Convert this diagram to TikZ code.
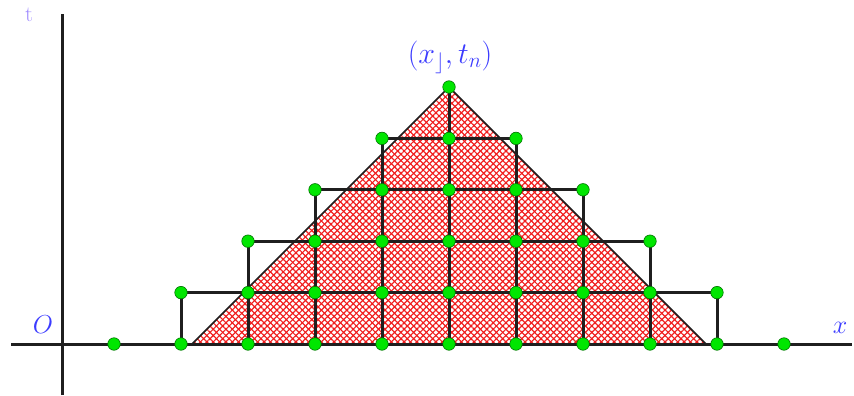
\RequirePackage{fix-cm}
\documentclass[tikz,border=0pt]{standalone}
\usepackage{amssymb}
\usetikzlibrary{patterns.meta}
\definecolor{lblblue}{RGB}{60,60,255}
\definecolor{lightblue}{RGB}{160,140,255}
\definecolor{dotgreen}{RGB}{0,230,0}
\definecolor{hatchred}{RGB}{240,30,30}
\begin{document}
\begin{tikzpicture}[x=1pt,y=-1pt,
  axisline/.style={line width=3pt,black!88},
  gridline/.style={line width=3pt,black!88},
  edgeline/.style={line width=1.6pt,black!88},
  dot/.style={circle,inner sep=0pt,minimum size=12.5pt,fill=dotgreen,draw=green!45!black,line width=0.6pt},
  lbl/.style={text=lblblue,inner sep=0pt}]
\useasboundingbox (0,0) rectangle (854,396);
% axes
\coordinate (ytop) at (62,14);
\coordinate (ybot) at (62,395);
\coordinate (xleft) at (11,344);
\coordinate (xright) at (852,344);
% grid coordinates
\foreach \i in {0,...,10} {\coordinate (g-\i-0) at ({114+67*\i},344);}
\foreach \j in {1,...,5} {
  \pgfmathtruncatemacro{\last}{10-\j}
  \foreach \i in {\j,...,\last} {\coordinate (g-\i-\j) at ({114+67*\i},{344-51.4*\j});}
}
% triangle
\coordinate (tA) at (192,344);
\coordinate (tC) at (706,344);
\fill[pattern={Lines[angle=45,distance=4.5pt,line width=1.2pt]},pattern color=hatchred] (tA) -- (g-5-5) -- (tC) -- cycle;
\fill[pattern={Lines[angle=-45,distance=4.5pt,line width=1.2pt]},pattern color=hatchred] (tA) -- (g-5-5) -- (tC) -- cycle;
% axes
\draw[axisline] (xleft) -- (xright);
\draw[axisline] (ybot) -- (ytop);
% horizontal grid lines
\foreach \j in {1,...,4} {
  \pgfmathtruncatemacro{\last}{10-\j}
  \draw[gridline] (g-\j-\j) -- (g-\last-\j);
}
% vertical grid lines
\foreach \i in {1,...,9} {
  \pgfmathtruncatemacro{\top}{min(\i,10-\i)}
  \draw[gridline] (g-\i-0) -- (g-\i-\top);
}
% triangle edges
\draw[edgeline] (tA) -- (g-5-5) -- (tC);
% dots
\foreach \i in {0,...,10} {\node[dot] (d-\i-0) at (g-\i-0) {};}
\foreach \j in {1,...,5} {
  \pgfmathtruncatemacro{\last}{10-\j}
  \foreach \i in {\j,...,\last} {\node[dot] (d-\i-\j) at (g-\i-\j) {};}
}
% labels
\node[lbl,anchor=south,font=\fontsize{30}{34}\selectfont] (top) at (450,74) {$(x_{\rfloor},t_n)$};
\node[lbl,font=\fontsize{26}{30}\selectfont] (O) at (43,325) {$O$};
\node[lbl,font=\fontsize{26}{30}\selectfont] (X) at (840,328) {$x$};
\node[text=lightblue,inner sep=0pt,font=\fontsize{22}{26}\selectfont] (T) at (29,15) {t};
\end{tikzpicture}
\end{document}
